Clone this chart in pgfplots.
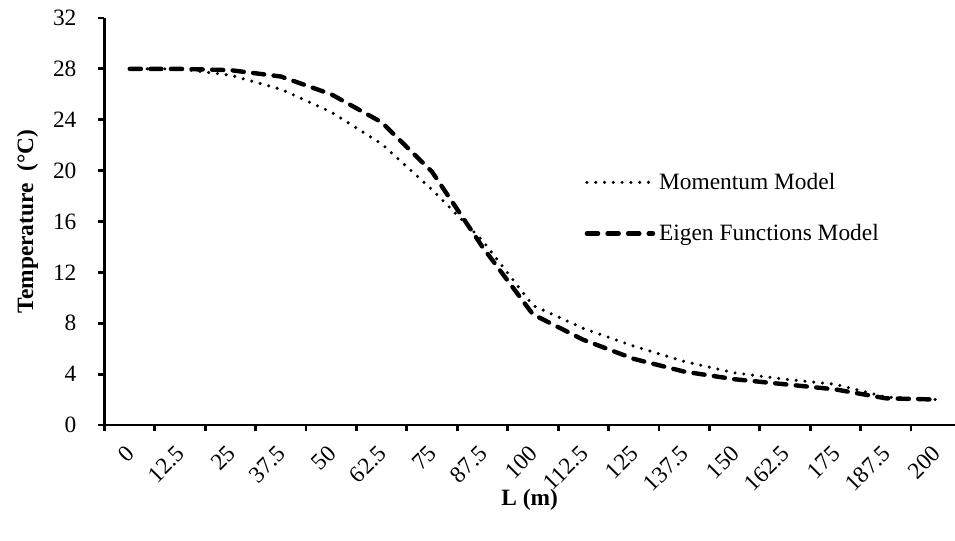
\documentclass[border=0pt]{standalone}
\usepackage{fontspec}
\setmainfont{Liberation Serif}
\usepackage{pgfplots}
\pgfplotsset{compat=1.18}
\begin{document}
\begin{tikzpicture}
\useasboundingbox (-52.25pt,-58pt) rectangle (425.25pt,212.5pt);
\begin{axis}[
  at={(0,0)}, anchor=south west, scale only axis,
  width=425.25pt, height=203.5pt,
  xmin=-0.5, xmax=16.375, ymin=0, ymax=32,
  axis x line=bottom, axis y line=left,
  axis line style={-, line width=1.4pt, black},
  ytick={0,4,...,32},
  xtick={0,...,16},
  xticklabels={0,12.5,25,37.5,50,62.5,75,87.5,100,112.5,125,137.5,150,162.5,175,187.5,200},
  minor xtick={-0.5,0.5,...,15.5},
  tick align=outside,
  major tick length=3pt, minor tick length=3pt,
  tick style={black, line width=1.4pt},
  major x tick style={draw=none},
  /pgf/number format/assume math mode=true,
  tick label style={font=\fontsize{11.7}{14}\selectfont},
  yticklabel style={xshift=-7.5pt},
  xticklabel style={yshift=-9.3pt, xshift=0.5pt, rotate=45, anchor=east, inner sep=0pt},
  xlabel={L (m)}, ylabel={Temperature\ \ (°C)},
  label style={font=\fontsize{11.7}{14}\selectfont\bfseries},
  x label style={at={(axis description cs:0.5,0)}, anchor=center, yshift=-37.5pt},
  y label style={at={([xshift=-38.5pt]axis description cs:0,0.5)}, anchor=center},
  legend cell align=left,
  legend style={at={(axis cs:9.02,17.06)}, anchor=west, draw=none, fill=none,
    inner sep=0pt, row sep=12pt, font=\fontsize{11.7}{14}\selectfont},
  legend image code/.code={\draw[#1] (0pt,0pt) -- (33pt,0pt);},
]
\addplot[black, line width=1.7pt, line cap=round, dash pattern=on 0pt off 4.4pt]
  coordinates {(0,28) (1,28) (2,27.5) (3,26.4) (4,24.6) (5,22.1) (6,18.5) (7,14.5) (8,9.4) (9,7.6) (10,6.2) (11,5.0) (12,4.1) (13,3.6) (14,3.2) (15,2.2) (16,2.0)};
\addlegendentry{Momentum Model}
\addplot[black, line width=2.2pt, line cap=round, dash pattern=on 5.6pt off 4.7pt]
  coordinates {(0,28) (1,28) (2,27.9) (3,27.4) (4,26.0) (5,23.8) (6,19.9) (7,14.0) (8,8.7) (9,6.7) (10,5.2) (11,4.2) (12,3.6) (13,3.2) (14,2.8) (15,2.1) (16,2.0)};
\addlegendentry{Eigen Functions Model}
\end{axis}
\end{tikzpicture}
\end{document}
